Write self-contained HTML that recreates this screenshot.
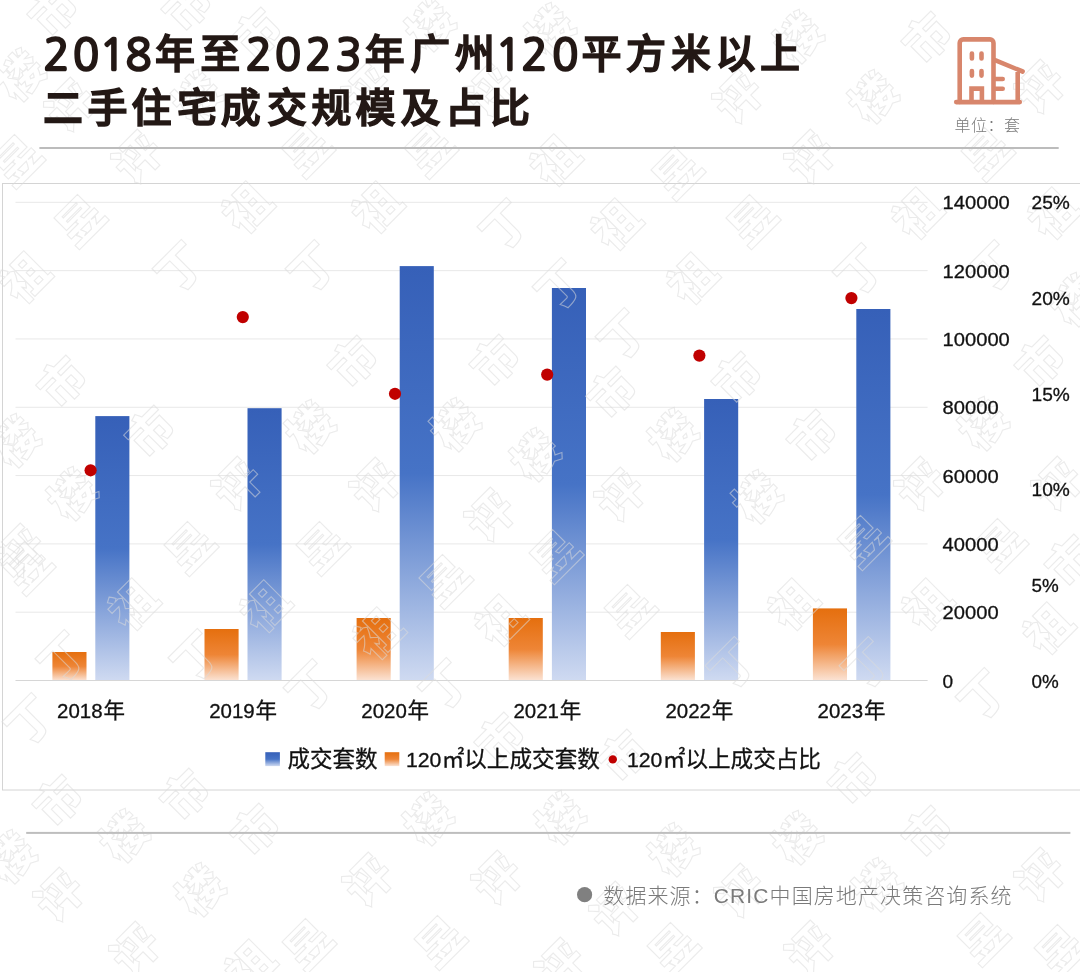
<!DOCTYPE html>
<html lang="zh-CN"><head><meta charset="utf-8"><title>2018年至2023年广州120平方米以上二手住宅成交规模及占比</title>
<style>html,body{margin:0;padding:0;background:#fff}body{width:1080px;height:972px;overflow:hidden;position:relative}svg{display:block;position:absolute;left:0;top:0;font-family:"Liberation Sans", "Noto Sans CJK SC", sans-serif}</style>
</head><body>
<svg width="1080" height="972" viewBox="0 0 1080 972">
<defs>
<linearGradient id="gb" x1="0" y1="0" x2="0" y2="1"><stop offset="0" stop-color="#3660b8"/><stop offset="0.5" stop-color="#4673c6"/><stop offset="1" stop-color="#cfdaf1"/></linearGradient>
<linearGradient id="go" x1="0" y1="0" x2="0" y2="1"><stop offset="0" stop-color="#e56f0e"/><stop offset="0.5" stop-color="#ee8536"/><stop offset="1" stop-color="#fbe3d4"/></linearGradient>
</defs>
<rect width="1080" height="972" fill="#fff"/>
<rect x="2.5" y="183.5" width="1090" height="606.5" fill="none" stroke="#d4d4d4" stroke-width="1"/>
<line x1="15.5" x2="927.6" y1="612.19" y2="612.19" stroke="#e8e8e8" stroke-width="1"/>
<line x1="15.5" x2="927.6" y1="543.88" y2="543.88" stroke="#e8e8e8" stroke-width="1"/>
<line x1="15.5" x2="927.6" y1="475.57" y2="475.57" stroke="#e8e8e8" stroke-width="1"/>
<line x1="15.5" x2="927.6" y1="407.26" y2="407.26" stroke="#e8e8e8" stroke-width="1"/>
<line x1="15.5" x2="927.6" y1="338.95" y2="338.95" stroke="#e8e8e8" stroke-width="1"/>
<line x1="15.5" x2="927.6" y1="270.64" y2="270.64" stroke="#e8e8e8" stroke-width="1"/>
<line x1="15.5" x2="927.6" y1="202.33" y2="202.33" stroke="#e8e8e8" stroke-width="1"/>
<rect x="52.4" y="652.0" width="34.1" height="28.5" fill="url(#go)"/>
<rect x="95.3" y="416.1" width="34.1" height="264.4" fill="url(#gb)"/>
<rect x="204.5" y="629.0" width="34.1" height="51.5" fill="url(#go)"/>
<rect x="247.5" y="408.2" width="34.1" height="272.3" fill="url(#gb)"/>
<rect x="356.6" y="618.0" width="34.1" height="62.5" fill="url(#go)"/>
<rect x="399.7" y="266.1" width="34.1" height="414.4" fill="url(#gb)"/>
<rect x="508.7" y="618.0" width="34.1" height="62.5" fill="url(#go)"/>
<rect x="551.9" y="288.0" width="34.1" height="392.5" fill="url(#gb)"/>
<rect x="660.8" y="632.0" width="34.1" height="48.5" fill="url(#go)"/>
<rect x="704.1" y="399.0" width="34.1" height="281.5" fill="url(#gb)"/>
<rect x="812.9" y="608.4" width="34.1" height="72.1" fill="url(#go)"/>
<rect x="856.3" y="309.0" width="34.1" height="371.5" fill="url(#gb)"/>
<line x1="15.5" x2="927.6" y1="680.50" y2="680.50" stroke="#d6d6d6" stroke-width="1.2"/>
<circle cx="90.6" cy="470.3" r="6.1" fill="#c00000"/>
<circle cx="242.8" cy="317.1" r="6.1" fill="#c00000"/>
<circle cx="395.0" cy="393.8" r="6.1" fill="#c00000"/>
<circle cx="547.2" cy="374.6" r="6.1" fill="#c00000"/>
<circle cx="699.4" cy="355.6" r="6.1" fill="#c00000"/>
<circle cx="851.4" cy="298.1" r="6.1" fill="#c00000"/>
<text font-size="46" font-weight="900" fill="none" stroke="#dadada" stroke-opacity="0.55" stroke-width="1.1" rotate="-45" x="49 183 16 66 133 13 76 303 21 243 176 309 253 193 373 426 501 363 426 486 546 58 146 349 11 68 306 16 233 129 186 318 261 59 491 608 451 531 669 371 486 616 441 551 626 496 192 307 441 374 733 808 753 1036 979 916 859 789 729 1053 996 923 863 1044 979 923 869 794 806 734 1036 748 983 913 1049 856 989 673 612 688 619 849 923 793 873 1036 736 979 806 424 556 669 364 493 611 436 669 496 619 304 54 120 251 7 55 196 131 181 23 556 551 1056 1071 1066 556 246 26" y="39 34 104 134 186 189 249 179 306 236 296 296 62 126 236 179 254 119 54 119 59 410 460 390 470 523 456 580 513 633 576 576 635 686 389 421 454 484 464 514 544 524 609 584 639 649 685 715 714 662 406 464 526 390 453 513 570 633 693 513 573 633 693 657 724 66 126 66 186 126 116 249 182 242 242 299 296 201 253 307 364 807 860 867 914 904 920 967 977 848 847 879 909 907 938 970 977 767 784 973 829 865 858 886 924 919 978 823 596 314 189 979 329 589 994 994 749">市市楼评评昱昱昱祖祖丁丁市楼祖昱丁评楼评楼市市市楼楼楼评评祖昱昱祖丁市市楼楼楼评评评昱昱昱祖丁丁丁祖市市楼市楼评昱祖丁评昱祖丁祖丁市楼楼评评评昱昱祖祖丁丁昱祖祖丁市市楼楼评评昱评楼楼楼评评评昱昱市市昱市楼市楼评楼评市昱丁祖昱楼市评祖丁</text>
<g font-size="19" fill="#111" stroke="#111" stroke-width="0.3">
<text x="942.6" y="687.5" textLength="10.6" lengthAdjust="spacingAndGlyphs">0</text>
<text x="942.6" y="619.2" textLength="56.0" lengthAdjust="spacingAndGlyphs">20000</text>
<text x="942.6" y="550.9" textLength="56.0" lengthAdjust="spacingAndGlyphs">40000</text>
<text x="942.6" y="482.6" textLength="56.0" lengthAdjust="spacingAndGlyphs">60000</text>
<text x="942.6" y="414.3" textLength="56.0" lengthAdjust="spacingAndGlyphs">80000</text>
<text x="942.6" y="345.9" textLength="67.2" lengthAdjust="spacingAndGlyphs">100000</text>
<text x="942.6" y="277.6" textLength="67.2" lengthAdjust="spacingAndGlyphs">120000</text>
<text x="942.6" y="209.3" textLength="67.2" lengthAdjust="spacingAndGlyphs">140000</text>
<text x="1031.5" y="687.5" textLength="27.2" lengthAdjust="spacingAndGlyphs">0%</text>
<text x="1031.5" y="591.9" textLength="27.2" lengthAdjust="spacingAndGlyphs">5%</text>
<text x="1031.5" y="496.2" textLength="38.3" lengthAdjust="spacingAndGlyphs">10%</text>
<text x="1031.5" y="400.6" textLength="38.3" lengthAdjust="spacingAndGlyphs">15%</text>
<text x="1031.5" y="304.9" textLength="38.3" lengthAdjust="spacingAndGlyphs">20%</text>
<text x="1031.5" y="209.3" textLength="38.3" lengthAdjust="spacingAndGlyphs">25%</text>
</g>
<text x="57.1" y="718.3" fill="#111" stroke="#111" stroke-width="0.3"><tspan font-size="19.3" textLength="45.5" lengthAdjust="spacingAndGlyphs">2018</tspan><tspan font-size="21.5" dx="0.8" dy="-0.7">年</tspan></text>
<text x="209.2" y="718.3" fill="#111" stroke="#111" stroke-width="0.3"><tspan font-size="19.3" textLength="45.5" lengthAdjust="spacingAndGlyphs">2019</tspan><tspan font-size="21.5" dx="0.8" dy="-0.7">年</tspan></text>
<text x="361.3" y="718.3" fill="#111" stroke="#111" stroke-width="0.3"><tspan font-size="19.3" textLength="45.5" lengthAdjust="spacingAndGlyphs">2020</tspan><tspan font-size="21.5" dx="0.8" dy="-0.7">年</tspan></text>
<text x="513.4" y="718.3" fill="#111" stroke="#111" stroke-width="0.3"><tspan font-size="19.3" textLength="45.5" lengthAdjust="spacingAndGlyphs">2021</tspan><tspan font-size="21.5" dx="0.8" dy="-0.7">年</tspan></text>
<text x="665.5" y="718.3" fill="#111" stroke="#111" stroke-width="0.3"><tspan font-size="19.3" textLength="45.5" lengthAdjust="spacingAndGlyphs">2022</tspan><tspan font-size="21.5" dx="0.8" dy="-0.7">年</tspan></text>
<text x="817.6" y="718.3" fill="#111" stroke="#111" stroke-width="0.3"><tspan font-size="19.3" textLength="45.5" lengthAdjust="spacingAndGlyphs">2023</tspan><tspan font-size="21.5" dx="0.8" dy="-0.7">年</tspan></text>
<rect x="265.3" y="752.2" width="14.6" height="13.9" fill="url(#gb)"/>
<text x="287.6" y="767" font-size="22.5" fill="#111" stroke="#111" stroke-width="0.3">成交套数</text>
<rect x="384.7" y="752.2" width="14.6" height="13.9" fill="url(#go)"/>
<text x="405.9" y="767" fill="#111" stroke="#111" stroke-width="0.3"><tspan font-size="19.3" textLength="35.4" lengthAdjust="spacingAndGlyphs">120</tspan><tspan font-size="22.6" dx="0.4">㎡以上成交套数</tspan></text>
<circle cx="612.8" cy="759.4" r="4.2" fill="#c00000"/>
<text x="627" y="767" fill="#111" stroke="#111" stroke-width="0.3"><tspan font-size="19.3" textLength="35.4" lengthAdjust="spacingAndGlyphs">120</tspan><tspan font-size="22.6" dx="0.4">㎡以上成交占比</tspan></text>
<rect x="26.2" y="831.9" width="1044.2" height="2" fill="#bebebe"/>
<circle cx="584.6" cy="894.7" r="7.6" fill="#808080"/>
<text x="603.3" y="902.6" font-size="21" fill="#7a7a7a" font-weight="300" letter-spacing="1.1">数据来源：CRIC中国房地产决策咨询系统</text>
<text fill="#231815" stroke="#231815" font-size="40" font-weight="500" stroke-width="1.6"><tspan x="43.4 72.9 99.6 125.5" y="70.2" font-family="NanumGothic, 'Liberation Sans', sans-serif" font-size="43" font-weight="400" stroke-width="2.6">2018</tspan><tspan x="155.0 200.3" y="68.3">年至</tspan><tspan x="245.7 274.9 305.4 335.4" y="70.2" font-family="NanumGothic, 'Liberation Sans', sans-serif" font-size="43" font-weight="400" stroke-width="2.6">2023</tspan><tspan x="364.8 410.2 454.8" y="68.3">年广州</tspan><tspan x="495.4 521.6 552.2" y="70.2" font-family="NanumGothic, 'Liberation Sans', sans-serif" font-size="43" font-weight="400" stroke-width="2.6">120</tspan><tspan x="581.6 625.9 671.0 715.4 759.9" y="68.3">平方米以上</tspan></text>
<text fill="#231815" stroke="#231815" font-size="40" font-weight="500" stroke-width="1.6"><tspan x="43.1 87.6 131.4 177.0 220.7 267.0 311.6 355.4 400.5 445.3 490.1" y="122.3">二手住宅成交规模及占比</tspan></text>
<rect x="39.4" y="147" width="1019.3" height="2" fill="#bcbcbc"/>
<g fill="none" stroke="#d8866c" stroke-width="4.6" stroke-linecap="round" stroke-linejoin="round">
<path d="M959.7 102 V43 a3.6 3.6 0 0 1 3.6 -3.6 H989.9 a3.6 3.6 0 0 1 3.6 3.6 V102"/>
<path d="M956.2 102.1 H1019.8"/>
<path d="M971.9 53.6 V58.5 M981.5 53.6 V58.5 M971.9 71.1 V75.6 M981.5 71.1 V75.6"/>
<path d="M971.5 100 V88.6 H981.9 V100" stroke-linecap="butt" stroke-linejoin="miter"/>
<path d="M995 60.2 L1022.6 71.5"/>
<path d="M1017.7 72 V101" stroke-linecap="butt"/>
<path d="M995 79 H1002.7 M995 88.7 H1002.7"/>
</g>
<text x="954.6" y="130.5" font-size="16" font-weight="300" fill="#7a7a7a" letter-spacing="0.5">单位：套</text>
</svg>
</body></html>
